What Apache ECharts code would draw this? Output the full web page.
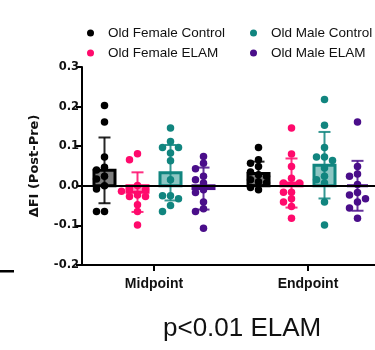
<!DOCTYPE html>
<html>
<head>
<meta charset="utf-8">
<script src="https://cdn.jsdelivr.net/npm/echarts@6/dist/echarts.min.js"></script>
<style>
  html, body { margin: 0; padding: 0; background: #fff; }
  #chart { width: 375px; height: 350px; }
</style>
</head>
<body>
<div id="chart"></div>
<script>
// time points on the x axis
const timepoints = ['Midpoint', 'Endpoint']
const groups = ['Old Female Control', 'Old Female ELAM', 'Old Male Control', 'Old Male ELAM']
const yTicks = [-0.2, -0.1, 0.0, 0.1, 0.2, 0.3]

// individual animals, ΔFI (post - pre)
const femaleControlMid = [0.203, 0.161, 0.073, 0.047, 0.040, 0.024, 0.017, 0.0, -0.008, -0.065, -0.065]
const femaleControlEnd = [0.097, 0.066, 0.057, 0.049, 0.035, 0.028, 0.024, 0.015, 0.010, 0.007, -0.004, -0.010]
const femaleElamMid = [0.081, 0.066, 0.001, -0.008, -0.010, -0.014, -0.023, -0.027, -0.027, -0.048, -0.065, -0.099]
const femaleElamEnd = [0.146, 0.080, 0.049, 0.019, 0.007, 0.007, -0.016, -0.016, -0.033, -0.041, -0.052, -0.082]
const maleControlMid = [0.146, 0.112, 0.097, 0.097, 0.083, 0.063, 0.015, -0.025, -0.025, -0.033, -0.050, -0.065]
const maleControlEnd = [0.218, 0.153, 0.097, 0.073, 0.073, 0.064, 0.045, 0.024, 0.015, 0.007, -0.041, -0.099]
const maleElamMid = [0.074, 0.057, 0.043, 0.024, 0.015, 0.007, -0.010, -0.017, -0.041, -0.058, -0.065, -0.107]
const maleElamEnd = [0.161, 0.049, 0.030, 0.024, 0.003, -0.017, -0.023, -0.033, -0.041, -0.056, -0.082]

// mean and SD per group (order of groups above)
const meanMid = [0.039, -0.016, 0.033, -0.007]
const sdMid = [0.083, 0.050, 0.070, 0.053]
const meanEnd = [0.031, 0.007, 0.052, 0.000]
const sdEnd = [0.030, 0.062, 0.084, 0.063]

const points = [
  [femaleControlMid, femaleControlEnd],
  [femaleElamMid, femaleElamEnd],
  [maleControlMid, maleControlEnd],
  [maleElamMid, maleElamEnd]
]
const means = [meanMid, meanEnd]
const sds = [sdMid, sdEnd]

const colors = ['#000000', '#ff0a6c', '#11857f', '#4a0e8a']
const fills = ['#7d7d7d', 'rgba(255,10,108,0.45)', '#8cc6c3', 'rgba(74,14,138,0.45)']

// layout helpers (axis units)
const GROUP_STEP = 0.2143 // distance between columns inside a time point
const PX_X = 154 // px per x unit
const PX_Y = 396 // px per y unit
const SLOT = 8 / PX_X // horizontal step of the dot swarm
const colX = (t, g) => t + 1 + (g - 1.5) * GROUP_STEP

// simple swarm: push overlapping dots sideways
function swarm(values, x0) {
  const placed = []
  return values.map(v => {
    const order = [0, -1, 1, -2, 2, -3, 3]
    for (const s of order) {
      const hit = placed.some(p => p.s === s && Math.abs(p.v - v) * PX_Y < 6.5)
      if (!hit) {
        placed.push({ s, v })
        return [x0 + s * SLOT, v]
      }
    }
    return [x0, v]
  })
}

const barData = []
const errData = []
for (let t = 0; t < 2; t++) {
  for (let g = 0; g < 4; g++) {
    barData.push([colX(t, g), means[t][g], g])
    errData.push([colX(t, g), means[t][g], sds[t][g], g])
  }
}

const chart = echarts.init(document.getElementById('chart'))

const scatterSeries = groups.map((name, g) => ({
  name,
  type: 'scatter',
  z: 3,
  symbol: 'circle',
  symbolSize: 7.5,
  itemStyle: { color: colors[g], opacity: 1 },
  data: [].concat(swarm(points[g][0], colX(0, g)), swarm(points[g][1], colX(1, g))),
  silent: true
}))

const legendText = { fontFamily: 'Liberation Sans', fontSize: 13.5, color: '#111', lineHeight: 16, padding: [0, 0, 0, 9] }

const option = {
  animation: false,
  legend: [
    {
      data: [groups[0], groups[1]],
      orient: 'vertical',
      left: 82,
      top: 20,
      icon: 'circle',
      itemWidth: 7,
      itemHeight: 7,
      itemGap: 4,
      textStyle: legendText
    },
    {
      data: [groups[2], groups[3]],
      orient: 'vertical',
      left: 245,
      top: 20,
      icon: 'circle',
      itemWidth: 7,
      itemHeight: 7,
      itemGap: 4,
      textStyle: legendText
    }
  ],
  grid: { left: 82, right: 0, top: 67, bottom: 85 },
  xAxis: {
    type: 'value',
    min: 1 - 72 / PX_X,
    max: 2 + 67 / PX_X,
    splitLine: { show: false },
    axisLine: { onZero: false, lineStyle: { color: '#000', width: 2 } },
    axisTick: { customValues: [1, 2], length: 6, lineStyle: { color: '#000', width: 2 } },
    axisLabel: {
      customValues: [1, 2],
      formatter: v => timepoints[Math.round(v) - 1],
      fontFamily: 'Liberation Sans',
      fontWeight: 'bold',
      fontSize: 14,
      color: '#111',
      margin: 12
    }
  },
  yAxis: {
    type: 'value',
    min: yTicks[0],
    max: yTicks[yTicks.length - 1],
    interval: 0.1,
    name: 'ΔFI (Post-Pre)',
    nameLocation: 'middle',
    nameGap: 41,
    nameTextStyle: { fontFamily: 'DejaVu Sans', fontWeight: 'bold', fontSize: 13, color: '#111' },
    splitLine: { show: false },
    axisLine: { show: true, onZero: false, lineStyle: { color: '#000', width: 2 } },
    axisTick: { show: true, length: 6, lineStyle: { color: '#000', width: 2 } },
    axisLabel: {
      formatter: v => v.toFixed(1),
      fontFamily: 'DejaVu Sans',
      fontWeight: 'bold',
      fontSize: 11.5,
      color: '#111',
      margin: 3
    }
  },
  graphic: [
    { type: 'rect', left: 0, top: 270, shape: { width: 14, height: 2.5 }, style: { fill: '#000' } },
    {
      type: 'text',
      left: 163,
      top: 316,
      style: { text: 'p<0.01 ELAM', fontFamily: 'Liberation Sans', fontSize: 26, fill: '#111' }
    }
  ],
  series: [
    {
      type: 'custom',
      z: 1,
      silent: true,
      data: barData,
      renderItem: (params, api) => {
        const x = api.value(0)
        const m = api.value(1)
        const g = api.value(2)
        const p0 = api.coord([x, 0])
        const p1 = api.coord([x, m])
        const w = 21
        return {
          type: 'rect',
          shape: { x: p0[0] - w / 2, y: Math.min(p0[1], p1[1]), width: w, height: Math.abs(p1[1] - p0[1]) },
          style: { fill: fills[g], stroke: colors[g], lineWidth: 3 }
        }
      }
    },
    ...scatterSeries,
    {
      type: 'custom',
      z: 4,
      silent: true,
      data: errData,
      renderItem: (params, api) => {
        const x = api.value(0)
        const m = api.value(1)
        const sd = api.value(2)
        const g = api.value(3)
        const top = api.coord([x, m + sd])
        const bot = api.coord([x, m - sd])
        const cap = 6
        const style = { stroke: colors[g], lineWidth: 2, opacity: 0.85 }
        return {
          type: 'group',
          children: [
            { type: 'line', shape: { x1: top[0], y1: top[1], x2: bot[0], y2: bot[1] }, style },
            { type: 'line', shape: { x1: top[0] - cap, y1: top[1], x2: top[0] + cap, y2: top[1] }, style },
            { type: 'line', shape: { x1: bot[0] - cap, y1: bot[1], x2: bot[0] + cap, y2: bot[1] }, style }
          ]
        }
      },
      markLine: {
        silent: true,
        symbol: 'none',
        label: { show: false },
        lineStyle: { color: '#000', width: 2, type: 'solid', opacity: 1 },
        data: [{ yAxis: 0 }]
      }
    }
  ]
}

chart.setOption(option)
</script>
</body>
</html>
